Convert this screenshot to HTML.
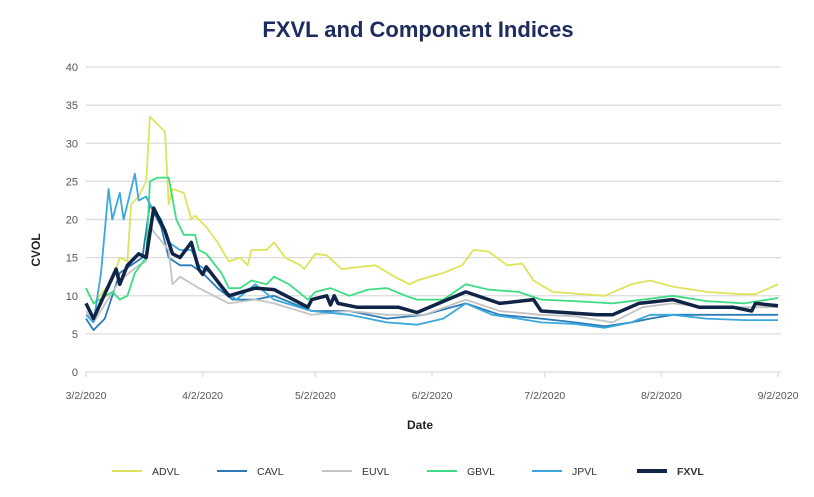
<!DOCTYPE html>
<html><head><meta charset="utf-8"><style>
body{margin:0;background:#fff;font-family:"Liberation Sans",sans-serif}
svg text{font-family:"Liberation Sans",sans-serif}
</style></head><body>
<svg id="c" width="814" height="492">
<text x="418" y="37" text-anchor="middle" font-size="22" font-weight="bold" fill="#1d2b5e">FXVL and Component Indices</text>
<text transform="translate(40,250) rotate(-90)" text-anchor="middle" font-size="12" font-weight="bold" fill="#222">CVOL</text>
<text x="420" y="429" text-anchor="middle" font-size="12" font-weight="bold" fill="#222">Date</text>
<g id="grid"></g><g id="lines"></g><g id="legend"></g>
</svg>
<script>
const yTicks=[0,5,10,15,20,25,30,35,40];
const xTickDays=[0,31,61,92,122,153,184];
const xTickLabels=["3/2/2020","4/2/2020","5/2/2020","6/2/2020","7/2/2020","8/2/2020","9/2/2020"];
const seriesNames=["ADVL","CAVL","EUVL","GBVL","JPVL","FXVL"];
const advlDays=[0,2,7,9,11,12,14,16,17,21,22,23,26,28,29,32,35,38,41,43,44,48,50,53,57,58,61,64,68,73,77,82,86,88,95,100,103,107,112,116,119,124,132,138,145,150,156,165,174,178,184];
const advlVals=[11,9,12,15,14.5,22,23,25,33.5,31.5,22,24,23.5,20,20.5,19,17,14.5,15,14,16,16,17,15,14,13.5,15.5,15.3,13.5,13.8,14,12.5,11.5,12,13,14,16,15.8,14,14.2,12,10.5,10.2,10,11.5,12,11.2,10.5,10.2,10.2,11.5];
const cavlDays=[0,2,5,9,12,15,17,20,22,25,28,31,35,39,45,50,60,70,80,90,101,110,121,130,138,145,150,156,165,175,184];
const cavlVals=[7,5.5,7,13,14,15,22,19,15,14,14,13,11,9.5,9.5,10,8,8,7,7.5,9,7.5,7,6.5,6,6.5,7,7.5,7.5,7.5,7.5];
const euvlDays=[0,2,9,14,16,17,22,23,25,30,38,45,50,60,70,80,90,101,110,121,130,140,148,156,165,175,184];
const euvlVals=[8,6.5,12,14,14.5,19,16,11.5,12.5,11,9,9.5,9,7.5,8,7.5,7.5,9.5,8,7.5,7.3,6.5,8.5,9,8.5,8.5,8.5];
const gbvlDays=[0,2,7,9,11,13,16,17,19,22,24,26,29,30,32,36,38,41,44,48,50,54,59,61,65,70,75,80,85,88,95,101,107,115,121,130,140,148,156,165,175,184];
const gbvlVals=[11,9,10.5,9.5,10,13,15,25,25.5,25.5,20,18,18,16,15.5,13,11,11,12,11.5,12.5,11.5,9.5,10.5,11,10,10.8,11,10,9.5,9.5,11.5,10.8,10.5,9.5,9.3,9,9.5,10,9.3,9,9.7];
const jpvlDays=[0,2,4,6,7,9,10,13,14,16,17,20,22,25,28,30,33,36,40,45,50,60,70,80,88,95,101,108,115,121,130,138,145,150,156,165,175,184];
const jpvlVals=[7.5,6.5,13,24,20,23.5,20,26,22.5,23,22,20,17,16,16,14,13,11,9.5,11.5,9.5,8,7.5,6.5,6.2,7,9,7.5,7,6.5,6.3,5.8,6.5,7.5,7.5,7,6.8,6.8];
const fxvlDays=[0,2,8,9,11,14,16,18,21,23,25,28,30,31,32,38,45,50,59,60,64,65,66,67,72,83,88,101,110,119,121,136,140,147,156,163,172,177,178,184];
const fxvlVals=[9,7,13.5,11.5,14,15.5,15,21.5,18.5,15.5,15,17,13.5,12.8,13.8,10,11,10.8,8.5,9.5,10,8.8,10,9,8.5,8.5,7.8,10.5,9,9.5,8,7.5,7.5,9,9.5,8.5,8.5,8,9,8.7];
const colors=["#dde35a","#2a7bb8","#c4c4c4","#3ddc84","#3aa8dc","#0f2447"];
const widths=[1.8,1.8,1.8,1.8,1.8,3.5];
const X0=86,X1=778,Y0=372,Y1=67;
const xs=d=>X0+(X1-X0)*d/184, ys=v=>Y0-(Y0-Y1)*v/40;
const NS="http://www.w3.org/2000/svg";
const g=document.getElementById('grid'),L=document.getElementById('lines'),lg=document.getElementById('legend');
function mk(tag,attrs,parent){const e=document.createElementNS(NS,tag);for(const k in attrs)e.setAttribute(k,attrs[k]);parent.appendChild(e);return e;}
yTicks.forEach(t=>{
 const l=mk('line',{x1:X0,x2:X1+3,y1:ys(t),y2:ys(t),stroke:'#dcdcdc','stroke-width':1.3},g);
 
 
 const tx=mk('text',{x:X0-8,y:ys(t)+4,'text-anchor':'end','font-size':11,fill:'#555'},g);tx.textContent=t;
 
 
});
xTickDays.forEach((d,i)=>{
 const l=mk('line',{x1:xs(d),x2:xs(d),y1:Y0,y2:Y0+5,stroke:'#dcdcdc','stroke-width':1.3},g);
 
 
 const tx=mk('text',{x:xs(d),y:Y0+27,'text-anchor':'middle','font-size':10.5,fill:'#555'},g);tx.textContent=xTickLabels[i];
 
 
});
const allDays=[advlDays,cavlDays,euvlDays,gbvlDays,jpvlDays,fxvlDays];
const allVals=[advlVals,cavlVals,euvlVals,gbvlVals,jpvlVals,fxvlVals];
seriesNames.forEach((n,i)=>{
 const pts=allDays[i].map((d,j)=>xs(d).toFixed(1)+','+ys(allVals[i][j]).toFixed(1)).join(' ');
 const p=mk('polyline',{points:pts,fill:'none',stroke:colors[i],'stroke-width':widths[i],'stroke-linejoin':'round'},L);
 
 
 const lx=112+i*105;
 const ll=mk('line',{x1:lx,x2:lx+30,y1:471,y2:471,stroke:colors[i],'stroke-width':i==5?4:2},lg);
 
 
 const lt=mk('text',{x:lx+40,y:475,'font-size':10.5,fill:'#333','font-weight':i==5?'bold':'normal'},lg);lt.textContent=n;
 
 
});
</script>
</body></html>
